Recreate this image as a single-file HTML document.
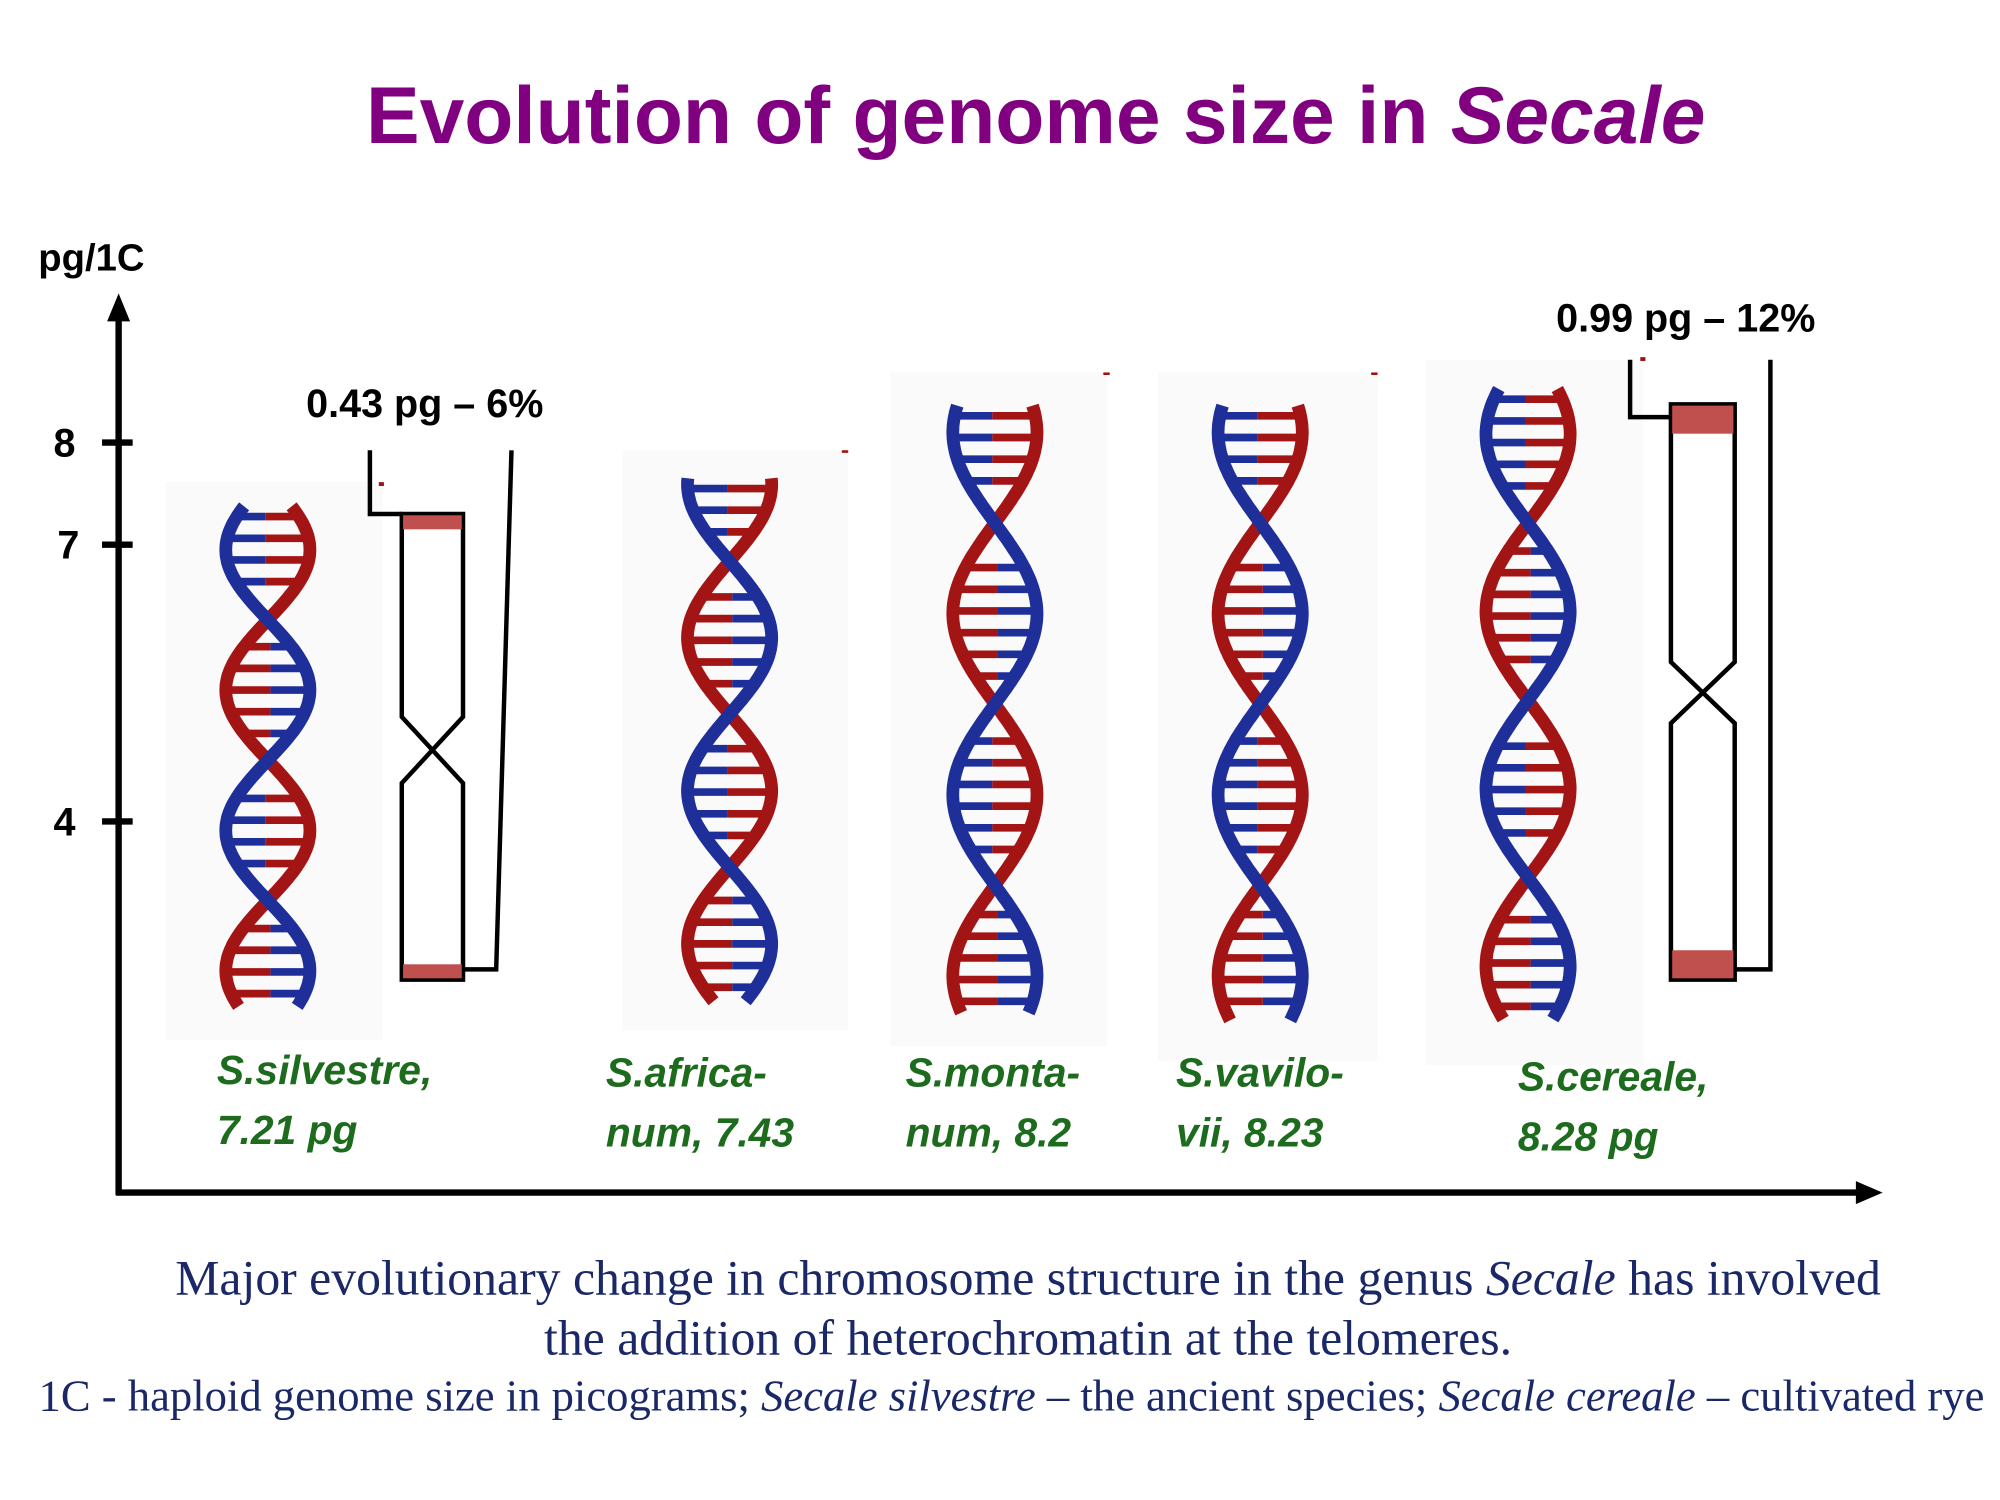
<!DOCTYPE html>
<html><head><meta charset="utf-8"><style>
html,body{margin:0;padding:0;background:#fff}
svg{display:block}
text{font-family:"Liberation Sans",sans-serif}
.b{font-weight:bold;font-size:31px;fill:#000}
.g{font-weight:bold;font-style:italic;font-size:32px;fill:#1d6b1d}
.c{font-family:"Liberation Serif",serif;fill:#1a2868}
</style></head><body>
<svg id="s" width="2000" height="1500" viewBox="0 0 1568 1176" xmlns="http://www.w3.org/2000/svg">
<text x="812" y="112" text-anchor="middle" style="font-weight:bold;font-size:63px;fill:#800080">Evolution of genome size in <tspan font-style="italic">Secale</tspan></text>
<text x="30" y="212" class="b" style="font-size:30px">pg/1C</text>
<g stroke="#000" stroke-width="5" fill="none">
<line x1="93" y1="245" x2="93" y2="937"/>
<line x1="91" y1="935" x2="1460" y2="935"/>
<line x1="80" y1="347" x2="104" y2="347"/>
<line x1="80" y1="427" x2="104" y2="427"/>
<line x1="80" y1="644" x2="104" y2="644"/>
</g>
<polygon points="93,230 84,252 102,252" fill="#000"/>
<polygon points="1476,935 1455,926 1455,944" fill="#000"/>
<text x="42" y="358" class="b">8</text>
<text x="45" y="438" class="b">7</text>
<text x="42" y="655" class="b">4</text>
<g fill="#fafafa">
<rect x="130" y="378" width="170" height="437"/>
<rect x="488" y="353" width="177" height="455"/>
<rect x="698" y="292" width="170" height="528"/>
<rect x="908" y="292" width="172" height="540"/>
<rect x="1118" y="282" width="170" height="553"/>
</g>
<g id="helices"></g>
<g stroke="#000" stroke-width="3.5" fill="none">
<path d="M290,353 V403 H315"/>
<path d="M401,353 L389,760 H363"/>
<path d="M315,403 V562 L363,614 V768 H315 V614 L363,562 V403 Z" fill="#fff"/>
</g>
<rect x="316" y="404" width="46" height="11" fill="#c0504d"/>
<rect x="316" y="756" width="46" height="11" fill="#c0504d"/>
<g stroke="#000" stroke-width="3.5" fill="none">
<path d="M1278,282 V327 H1310"/>
<path d="M1388,282 V760 H1360"/>
<path d="M1310,317 V519 L1360,567 V768 H1310 V567 L1360,519 V317 Z" fill="#fff"/>
</g>
<rect x="1311" y="318" width="48" height="22" fill="#c0504d"/>
<rect x="1311" y="745" width="48" height="22" fill="#c0504d"/>
<g fill="#a01010"><rect x="297" y="378" width="4" height="3"/><rect x="1286" y="280" width="4" height="3"/><rect x="660" y="353" width="5" height="2"/><rect x="865" y="292" width="5" height="2"/><rect x="1075" y="292" width="5" height="2"/></g>
<text x="240" y="327" class="b">0.43 pg – 6%</text>
<text x="1220" y="260" class="b">0.99 pg – 12%</text>
<text x="170" y="850" class="g">S.silvestre,</text>
<text x="170" y="897" class="g">7.21 pg</text>
<text x="475" y="852" class="g">S.africa-</text>
<text x="475" y="899" class="g">num, 7.43</text>
<text x="710" y="852" class="g">S.monta-</text>
<text x="710" y="899" class="g">num, 8.2</text>
<text x="922" y="852" class="g">S.vavilo-</text>
<text x="922" y="899" class="g">vii, 8.23</text>
<text x="1190" y="855" class="g">S.cereale,</text>
<text x="1190" y="902" class="g">8.28 pg</text>
<text x="806" y="1015" text-anchor="middle" class="c" style="font-size:39px">Major evolutionary change in chromosome structure in the genus <tspan font-style="italic">Secale</tspan> has involved</text>
<text x="806" y="1062" text-anchor="middle" class="c" style="font-size:39px">the addition of heterochromatin at the telomeres.</text>
<text x="793" y="1106" text-anchor="middle" class="c" style="font-size:35px">1C - haploid genome size in picograms; <tspan font-style="italic">Secale silvestre</tspan> – the ancient species; <tspan font-style="italic">Secale cereale</tspan> – cultivated rye</text>
</svg>
<script>
var NS="http://www.w3.org/2000/svg",G=document.getElementById("helices");
var H=[[210,397,790,486,110,33],[572,375,785,440,120,33],[780,318,795,410,142,33],[988,318,800,410,142,33],[1198,305,800,410,139,33]];
var R="#a31515",B="#1f2f9a";
function el(t,a){var e=document.createElementNS(NS,t);for(var k in a)e.setAttribute(k,a[k]);G.appendChild(e);return e;}
H.forEach(function(h){
 var c=h[0],t=h[1],b=h[2],x0=h[3],hp=h[4],A=h[5];
 function f(y){return Math.sin(Math.PI*(y-x0)/hp);}
 for(var y=t+8;y<b-4;y+=17){
  var s=f(y);if(Math.abs(s)<0.45)continue;
  var bx=c+A*s, rx=c-A*s;
  var mid=c;
  el("line",{x1:bx,y1:y,x2:mid-2*Math.sign(bx-mid)*-1,y2:y,stroke:B,"stroke-width":6});
  el("line",{x1:rx,y1:y,x2:mid+2*Math.sign(bx-mid),y2:y,stroke:R,"stroke-width":6});
 }
 var pb="",pr="";
 for(var y=t;y<=b;y+=2){var s=f(y);pb+=(y==t?"M":"L")+(c+A*s).toFixed(1)+","+y;pr+=(y==t?"M":"L")+(c-A*s).toFixed(1)+","+y;}
 el("path",{d:pr,stroke:R,"stroke-width":10,fill:"none"});
 el("path",{d:pb,stroke:B,"stroke-width":10,fill:"none"});
});
</script>
</body></html>
